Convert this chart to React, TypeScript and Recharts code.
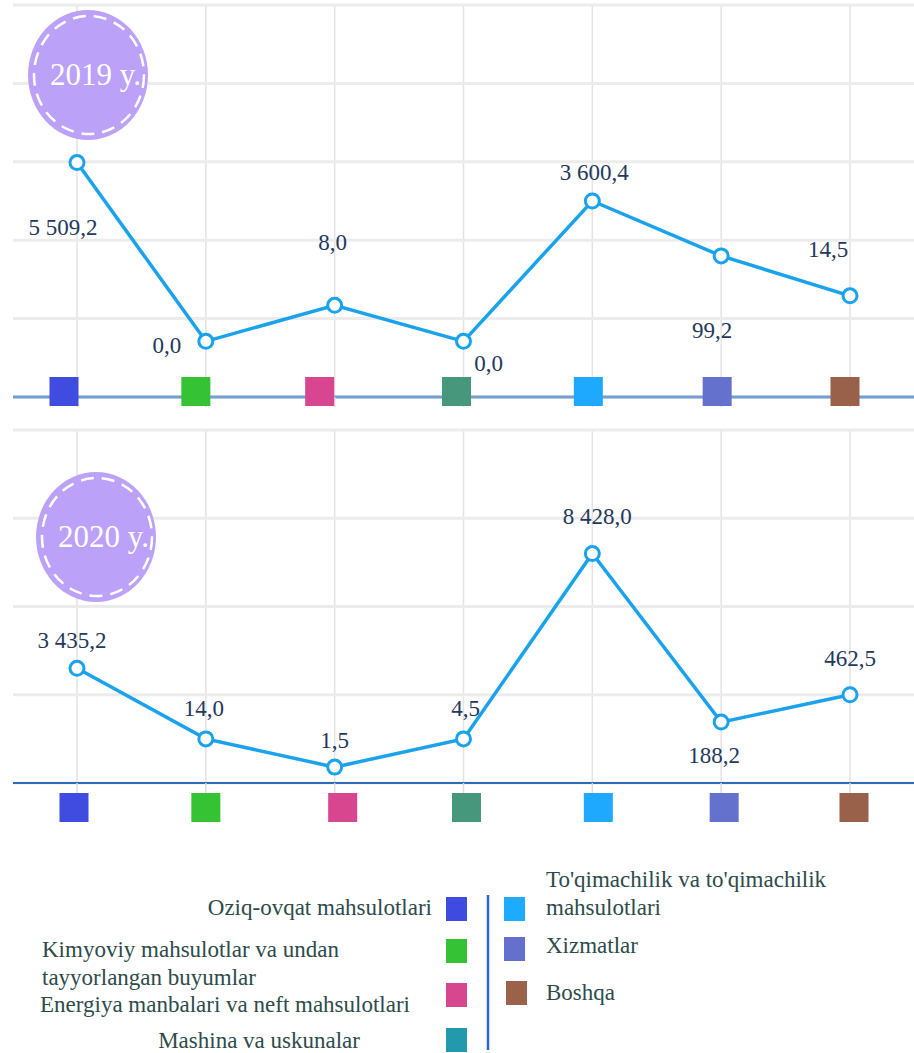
import { LineChart, Line, XAxis, YAxis, CartesianGrid, LabelList } from "recharts";

// export structure by product group, two years
const categories = [
  "Oziq-ovqat mahsulotlari",
  "Kimyoviy mahsulotlar va undan tayyorlangan buyumlar",
  "Energiya manbalari va neft mahsulotlari",
  "Mashina va uskunalar",
  "To'qimachilik va to'qimachilik mahsulotlari",
  "Xizmatlar",
  "Boshqa",
];

const values2019 = [5509.2, 0.0, 8.0, 0.0, 3600.4, 99.2, 14.5];
const values2020 = [3435.2, 14.0, 1.5, 4.5, 8428.0, 188.2, 462.5];

// marker heights as drawn (the source picture is not to scale)
const level2019 = [2.99, 0.71, 1.17, 0.71, 2.5, 1.8, 1.29];
const level2020 = [1.3, 0.5, 0.18, 0.5, 2.6, 0.69, 1.0];

const categoryColors = ["#404be0", "#35c335", "#d7468f", "#46977c", "#1fa9fe", "#6472cd", "#99614a"];
const legendColors = ["#3f4ade", "#35c234", "#d6478f", "#2399ad", "#1eaaff", "#6470cb", "#9a624a"];

const legendLines = [
  ["Oziq-ovqat mahsulotlari"],
  ["Kimyoviy mahsulotlar va undan", "tayyorlangan buyumlar"],
  ["Energiya manbalari va neft mahsulotlari"],
  ["Mashina va uskunalar"],
  ["To'qimachilik va to'qimachilik", "mahsulotlari"],
  ["Xizmatlar"],
  ["Boshqa"],
];

const SERIF = "'Liberation Serif', 'Times New Roman', Tinos, 'DejaVu Serif', 'Noto Serif', FreeSerif, serif";
const LINE = "#1aa3ec";
const LABEL = "#24385e";
const LEGEND_TEXT = "#2d4b4b";

function fmt(v: number) {
  const [i, d] = v.toFixed(1).split(".");
  return i.replace(/\B(?=(\d{3})+(?!\d))/g, " ") + "," + d;
}

// label offsets from each point [dx, dy]
const labelShift2019 = [[-14, 64], [-39, 4], [-2, -63], [25, 22], [2, -29], [-9, 74], [-22, -47]];
const labelShift2020 = [[-5, -28], [-2, -31], [0, -27], [2, -31], [5, -38], [-7, 33], [0, -37]];
const squareShift2019 = [-13, -10, -15, -7, -4, -4, -5];
const squareShift2020 = [-3, 0, 8, 3, 6, 3, 4];

type PanelProps = {
  values: number[];
  levels: number[];
  yMax: number;
  marginTop: number;
  axisHeight: number;
  axisColor: string;
  axisWidth: number;
  squareAbove: boolean;
  labelShift: number[][];
  squareShift: number[];
};

function Panel(p: PanelProps) {
  const data = categories.map((name, i) => ({
    name,
    level: p.levels[i],
    label: fmt(p.values[i]),
  }));
  const ticks = Array.from({ length: p.yMax + 1 }, (_, i) => i);

  const SquareTick = (props: any) => {
    const idx = categories.indexOf(props.payload.value);
    const size = 29;
    const y = p.squareAbove ? props.y - size - 1 : props.y;
    return (
      <rect
        x={props.x - size / 2 + p.squareShift[idx]}
        y={y}
        width={size}
        height={size}
        fill={categoryColors[idx]}
      />
    );
  };

  const renderLabel = (props: any) => {
    const { x, y, index, value } = props;
    const [dx, dy] = p.labelShift[index];
    return (
      <text
        x={x + dx}
        y={y + dy + 8}
        textAnchor="middle"
        style={{ fontFamily: SERIF }}
        fontSize={23}
        fill={LABEL}
      >
        {value}
      </text>
    );
  };

  return (
    <LineChart
      width={914}
      height={420}
      data={data}
      margin={{ top: p.marginTop, right: 0, left: 13, bottom: 0 }}
    >
      <CartesianGrid horizontal={false} stroke="#e3e3e3" strokeWidth={1.5} syncWithTicks />
      <CartesianGrid vertical={false} stroke="#ececec" strokeWidth={3} syncWithTicks />
      <XAxis
        dataKey="name"
        height={p.axisHeight}
        padding={{ left: 64, right: 64 }}
        axisLine={{ stroke: p.axisColor, strokeWidth: p.axisWidth }}
        tickLine={{ stroke: "#dcdcdc", strokeWidth: 1.5 }}
        tickSize={10}
        tickMargin={0}
        interval={0}
        tick={SquareTick}
      />
      <YAxis hide type="number" domain={[0, p.yMax]} ticks={ticks} />
      <Line
        type="linear"
        dataKey="level"
        stroke={LINE}
        strokeWidth={3.5}
        dot={{ r: 7, fill: "#fff", stroke: LINE, strokeWidth: 3 }}
        isAnimationActive={false}
      >
        <LabelList dataKey="label" content={renderLabel} />
      </Line>
    </LineChart>
  );
}

function Badge({ cx, cy, text }: { cx: number; cy: number; text: string }) {
  return (
    <g>
      <ellipse cx={cx} cy={cy} rx={60} ry={65} fill="#bba2f8" />
      <ellipse
        cx={cx + 1}
        cy={cy}
        rx={55}
        ry={59}
        fill="none"
        stroke="#fff"
        strokeWidth={2.5}
        strokeDasharray="13 8"
      />
      <text x={cx - 38} y={cy + 10} style={{ fontFamily: SERIF }} fontSize={31} fill="#fff">
        {text}
      </text>
    </g>
  );
}

// legend layout: [text x, anchor, first baseline, square x, square y]
const legendLayout: [number, "start" | "end", number, number, number][] = [
  [432, "end", 915, 446, 897],
  [42, "start", 957, 446, 939],
  [40, "start", 1012, 446, 983],
  [360, "end", 1048, 446, 1028],
  [546, "start", 887, 504, 897],
  [546, "start", 953, 504, 937],
  [546, "start", 1000, 506, 981],
];

export default function App() {
  return (
    <div style={{ position: "absolute", left: 0, top: 0, width: 914, height: 1053, background: "#fff" }}>
      <div style={{ position: "absolute", left: 0, top: 0 }}>
        <Panel
          values={values2019}
          levels={level2019}
          yMax={5}
          marginTop={5}
          axisHeight={23}
          axisColor="#74a0cf"
          axisWidth={3}
          squareAbove={true}
          labelShift={labelShift2019}
          squareShift={squareShift2019}
        />
      </div>
      <div style={{ position: "absolute", left: 0, top: 420 }}>
        <Panel
          values={values2020}
          levels={level2020}
          yMax={4}
          marginTop={10}
          axisHeight={57}
          axisColor="#2e6cb4"
          axisWidth={2}
          squareAbove={false}
          labelShift={labelShift2020}
          squareShift={squareShift2020}
        />
      </div>
      <svg
        width={914}
        height={1053}
        style={{ position: "absolute", left: 0, top: 0, pointerEvents: "none" }}
      >
        <Badge cx={88} cy={75} text="2019 y." />
        <Badge cx={96} cy={537} text="2020 y." />
        {legendLayout.map(([tx, anchor, ty, sx, sy], i) => (
          <g key={categories[i]}>
            <rect x={sx} y={sy} width={21} height={24} fill={legendColors[i]} />
            {legendLines[i].map((line, j) => (
              <text
                key={line}
                x={tx}
                y={ty + j * 28}
                textAnchor={anchor}
                style={{ fontFamily: SERIF }}
                fontSize={23}
                fill={LEGEND_TEXT}
              >
                {line}
              </text>
            ))}
          </g>
        ))}
        <line x1={488} y1={895} x2={488} y2={1050} stroke="#2a66d6" strokeWidth={2.5} />
      </svg>
    </div>
  );
}
